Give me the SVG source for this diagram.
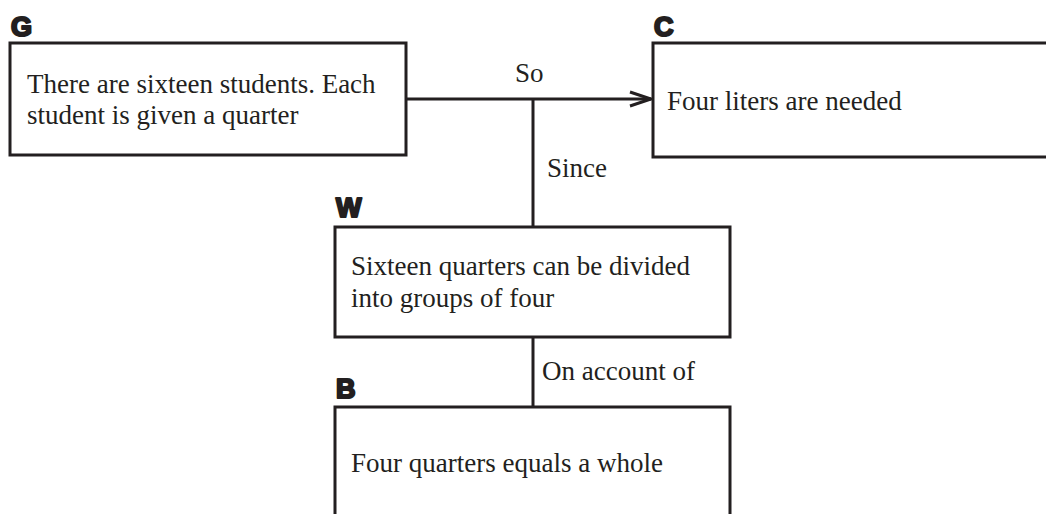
<svg xmlns="http://www.w3.org/2000/svg" width="1046" height="514" viewBox="0 0 1046 514">
<style>
.box{fill:#fff;stroke:#231f20;stroke-width:3}
.ln{fill:none;stroke:#231f20;stroke-width:3}
.t{font-family:"Liberation Serif","DejaVu Serif",serif;font-size:27px;fill:#231f20}
.k{font-family:"Liberation Sans","DejaVu Sans",sans-serif;font-weight:bold;font-size:27px;fill:#231f20;stroke:#231f20;stroke-width:2.2;stroke-linejoin:round}
</style>
<defs>
<marker id="arr" markerWidth="26" markerHeight="20" refX="22" refY="10" orient="auto" markerUnits="userSpaceOnUse">
<path d="M1,3 L22,10 L1,17" fill="none" stroke="#231f20" stroke-width="3"/>
</marker>
</defs>
<rect width="1046" height="514" fill="#fff"/>
<g id="connectors">
<line class="ln" x1="406" y1="99" x2="651" y2="99" marker-end="url(#arr)"/>
<line class="ln" x1="533" y1="99" x2="533" y2="227"/>
<line class="ln" x1="533" y1="337" x2="533" y2="407"/>
<text class="t" x="515" y="82">So</text>
<text class="t" x="547" y="177">Since</text>
<text class="t" x="542" y="380">On account of</text>
</g>
<g id="G">
<text class="k" x="11" y="36">G</text>
<rect class="box" x="10" y="43" width="396" height="112"/>
<text class="t" x="27" y="93">There are sixteen students. Each</text>
<text class="t" x="27" y="124">student is given a quarter</text>
</g>
<g id="C">
<text class="k" x="654" y="36">C</text>
<rect class="box" x="653" y="43" width="420" height="114"/>
<text class="t" x="667" y="110">Four liters are needed</text>
</g>
<g id="W">
<text class="k" x="336" y="217">W</text>
<rect class="box" x="335" y="227" width="395" height="110"/>
<text class="t" x="351" y="275">Sixteen quarters can be divided</text>
<text class="t" x="351" y="307">into groups of four</text>
</g>
<g id="B">
<text class="k" x="336" y="398">B</text>
<rect class="box" x="335" y="407" width="395" height="130"/>
<text class="t" x="351" y="472">Four quarters equals a whole</text>
</g>
</svg>
